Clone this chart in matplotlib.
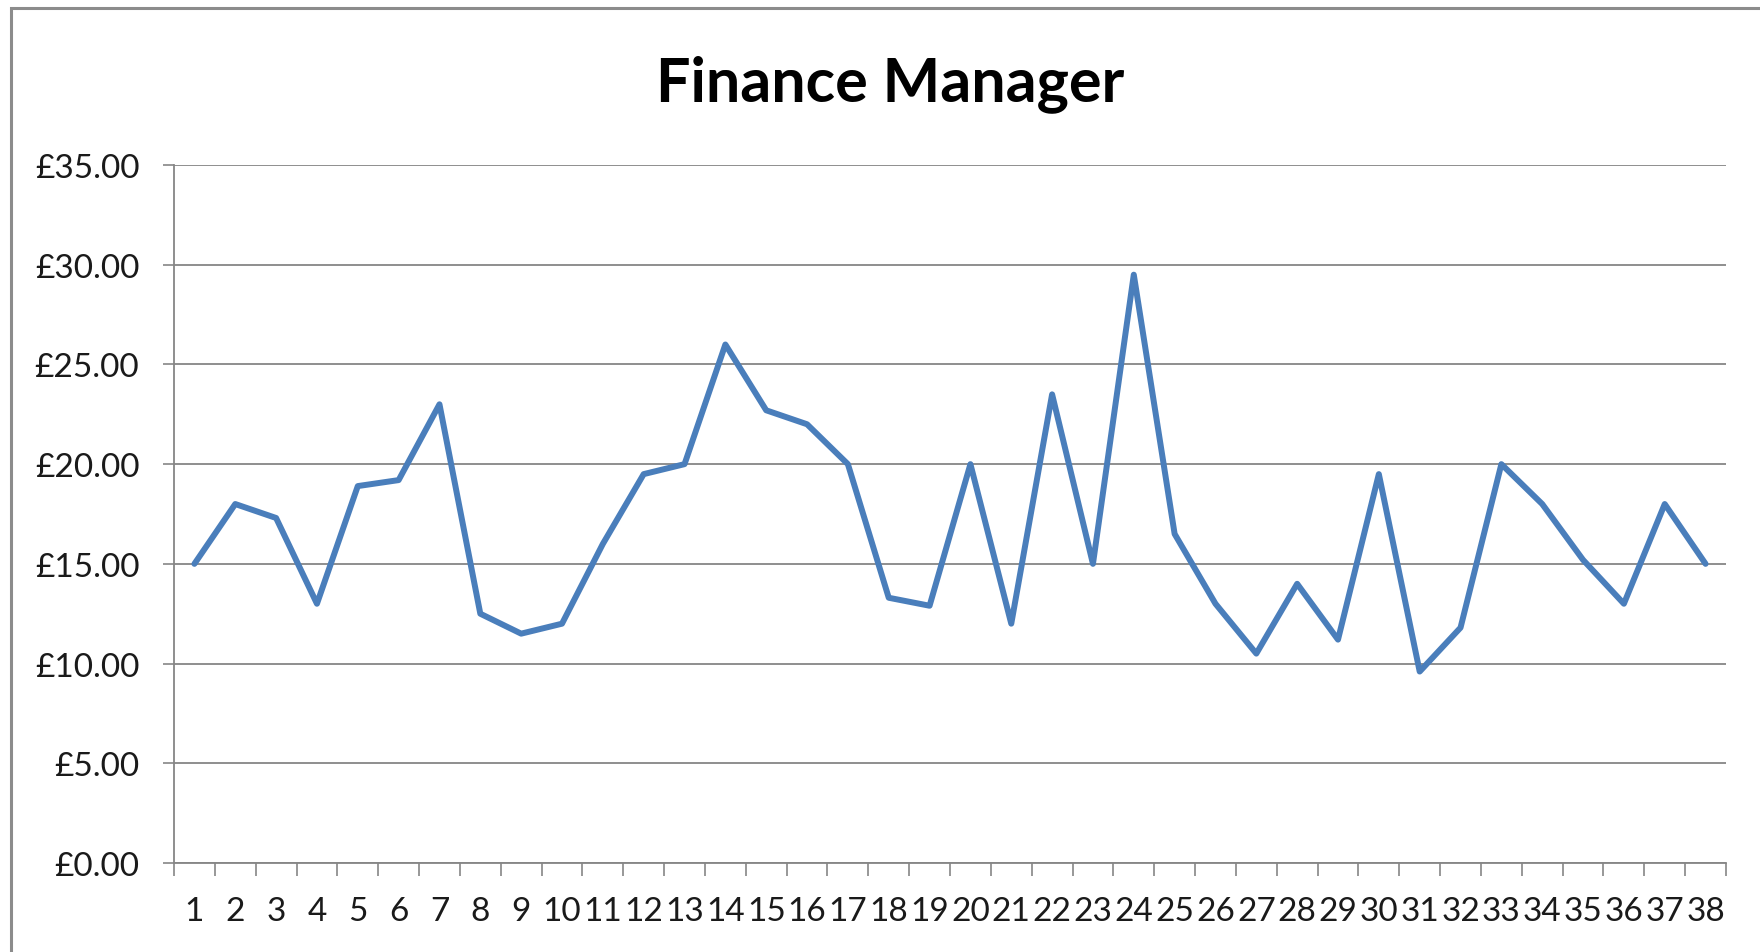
import matplotlib.pyplot as plt
from matplotlib.patches import Rectangle
from matplotlib.ticker import FixedLocator, FuncFormatter

# weekly spend values
weeks = [str(i) for i in range(1, 39)]
spend = [15.0, 18.0, 17.3, 13.0, 18.9, 19.2, 23.0, 12.5, 11.5, 12.0,
         16.0, 19.5, 20.0, 26.0, 22.7, 22.0, 20.0, 13.3, 12.9, 20.0,
         12.0, 23.5, 15.0, 29.5, 16.5, 13.0, 10.5, 14.0, 11.2, 19.5,
         9.6, 11.8, 20.0, 18.0, 15.2, 13.0, 18.0, 15.0]
yticks = [0, 5, 10, 15, 20, 25, 30, 35]

plt.rcParams['font.family'] = ['Lato', 'DejaVu Sans']
grey = "#868686"

fig = plt.figure(figsize=(17.6, 9.53), dpi=100)
ax = fig.add_axes([174/1760, 89/953, 1552/1760, 698/953])

x = list(range(len(weeks)))
ax.plot(x, spend, color="#4A7EBB", linewidth=4.3, solid_joinstyle="round",
        solid_capstyle="round")

ax.set_xlim(-0.5, len(weeks) - 0.5)
ax.set_ylim(0, 35)

ax.set_yticks(yticks)
ax.yaxis.set_major_formatter(FuncFormatter(lambda v, p: "£{:.2f}".format(v)))
ax.tick_params(axis="y", length=8, width=1.2, color=grey, pad=17,
               labelsize=24, labelcolor="#1a1a1a")
ax.grid(axis="y", color=grey, linewidth=1.3)

# category labels sit between the boundary tick marks, Excel style
ax.set_xticks(x)
ax.set_xticklabels(weeks)
ax.xaxis.set_minor_locator(FixedLocator([i - 0.5 for i in range(len(weeks) + 1)]))
ax.tick_params(axis="x", which="major", length=0, pad=24,
               labelsize=24, labelcolor="#1a1a1a")
ax.tick_params(axis="x", which="minor", length=9, width=1.2, color=grey)

for s in ["top", "right"]:
    ax.spines[s].set_visible(False)
for s in ["left", "bottom"]:
    ax.spines[s].set_color(grey)
    ax.spines[s].set_linewidth(1.3)
ax.set_axisbelow(True)

fig.text(890/1760, 1 - 84/953, "Finance Manager", ha="center", va="center",
         fontsize=44, fontweight="bold")

# outer chart border (cropped at right and bottom)
fig.patches.append(Rectangle((11/1760, -0.1), 1.2, 1 - 9/953 + 0.1,
                             transform=fig.transFigure, fill=False,
                             edgecolor="#8c8c8c", linewidth=2.2))

fig.savefig("out.png", dpi=100)
